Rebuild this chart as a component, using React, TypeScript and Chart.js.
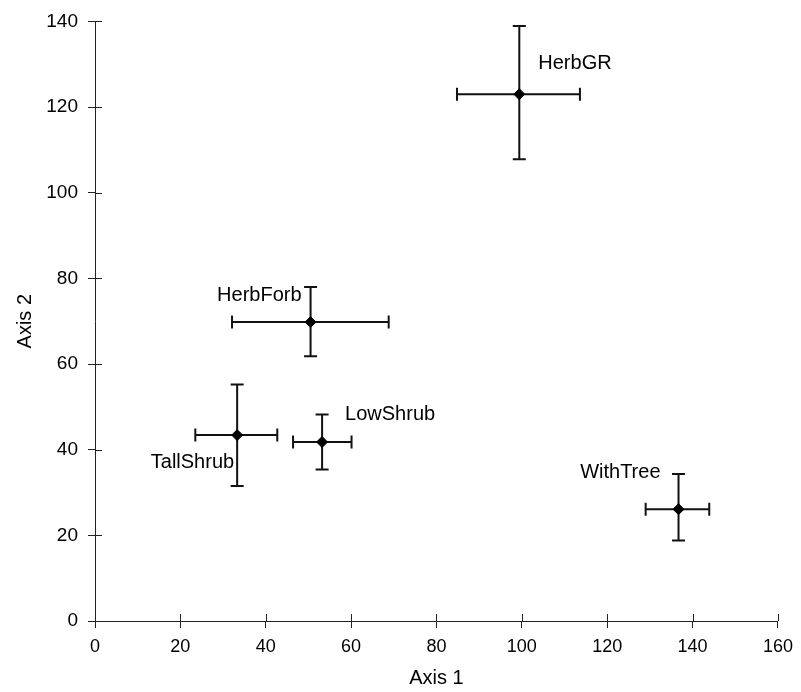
import React, { useEffect, useRef } from "react";
import { Chart, registerables } from "chart.js";

Chart.register(...registerables);

// ---- data ----
const groups = ["HerbGR", "HerbForb", "TallShrub", "LowShrub", "WithTree"];
const axis1 = [99.4, 50.5, 33.3, 53.2, 136.7];
const axis2 = [123.0, 69.8, 43.4, 41.8, 26.1];
const axis1Low = [84.8, 32.1, 23.5, 46.4, 129.0];
const axis1High = [113.6, 68.8, 42.7, 60.1, 143.9];
const axis2Low = [107.8, 61.8, 31.5, 35.4, 18.8];
const axis2High = [138.9, 78.0, 55.2, 48.2, 34.3];

// label placement (pixel offsets from the point – styling only)
const labelDx = [19, -9, -3, 23, -18];
const labelDy = [-31, -27, 27, -27, -37];
const labelAlign: CanvasTextAlign[] = ["left", "right", "right", "left", "right"];

const FONT = "'Liberation Sans', Arial, Helvetica, sans-serif";
const INK = "#111";

const errorBarPlugin = {
  id: "errorBars",
  beforeDatasetsDraw(chart: any) {
    const { ctx, scales } = chart;
    const xs = scales.x;
    const ys = scales.y;
    const cap = 6.5;
    ctx.save();
    ctx.strokeStyle = INK;
    ctx.lineWidth = 2;
    for (let i = 0; i < groups.length; i++) {
      const px = xs.getPixelForValue(axis1[i]);
      const py = ys.getPixelForValue(axis2[i]);
      const xl = xs.getPixelForValue(axis1Low[i]);
      const xh = xs.getPixelForValue(axis1High[i]);
      const yl = ys.getPixelForValue(axis2Low[i]);
      const yh = ys.getPixelForValue(axis2High[i]);
      ctx.beginPath();
      ctx.moveTo(xl, py);
      ctx.lineTo(xh, py);
      ctx.moveTo(xl, py - cap);
      ctx.lineTo(xl, py + cap);
      ctx.moveTo(xh, py - cap);
      ctx.lineTo(xh, py + cap);
      ctx.moveTo(px, yl);
      ctx.lineTo(px, yh);
      ctx.moveTo(px - cap, yl);
      ctx.lineTo(px + cap, yl);
      ctx.moveTo(px - cap, yh);
      ctx.lineTo(px + cap, yh);
      ctx.stroke();
    }
    ctx.restore();
  },
  afterDatasetsDraw(chart: any) {
    const { ctx, scales } = chart;
    ctx.save();
    ctx.fillStyle = "#000";
    ctx.font = `20px ${FONT}`;
    ctx.textBaseline = "middle";
    for (let i = 0; i < groups.length; i++) {
      const px = scales.x.getPixelForValue(axis1[i]);
      const py = scales.y.getPixelForValue(axis2[i]);
      ctx.textAlign = labelAlign[i];
      ctx.fillText(groups[i], px + labelDx[i], py + labelDy[i]);
    }
    ctx.restore();
  },
};

const innerTicksPlugin = {
  id: "innerTicks",
  afterDraw(chart: any) {
    const { ctx, scales } = chart;
    const len = 7;
    ctx.save();
    ctx.strokeStyle = "#222";
    ctx.lineWidth = 1;
    ctx.beginPath();
    const xs = scales.x;
    xs.ticks.forEach((t: any) => {
      const p = Math.round(xs.getPixelForValue(t.value)) + 0.5;
      ctx.moveTo(p, xs.top);
      ctx.lineTo(p, xs.top - len);
    });
    const ys = scales.y;
    ys.ticks.forEach((t: any) => {
      const p = Math.round(ys.getPixelForValue(t.value)) + 0.5;
      ctx.moveTo(ys.right, p);
      ctx.lineTo(ys.right + len, p);
    });
    ctx.stroke();
    ctx.restore();
  },
};

export default function App() {
  const ref = useRef<HTMLCanvasElement | null>(null);

  useEffect(() => {
    if (!ref.current) return;
    const chart = new Chart(ref.current, {
      type: "scatter",
      data: {
        datasets: [
          {
            label: "Groups",
            data: axis1.map((x, i) => ({ x, y: axis2[i] })),
            pointStyle: "rectRot",
            pointRadius: 5.5,
            pointBackgroundColor: "#000",
            pointBorderColor: "#000",
            pointBorderWidth: 1,
          },
        ],
      },
      options: {
        animation: false,
        responsive: false,
        devicePixelRatio: 1,
        layout: { padding: { top: 21, right: 19, left: 0, bottom: 0 } },
        plugins: {
          legend: { display: false },
          tooltip: { enabled: false },
        },
        scales: {
          x: {
            type: "linear",
            min: 0,
            max: 160,
            afterFit: (s: any) => {
              s.height = 71;
            },
            ticks: {
              stepSize: 20,
              color: "#000",
              padding: 8,
              font: { family: FONT, size: 18 },
            },
            grid: {
              drawOnChartArea: false,
              drawTicks: true,
              tickLength: 7,
              color: "#222",
            },
            border: { display: true, color: "#222", width: 1 },
            title: {
              display: true,
              text: "Axis 1",
              color: "#000",
              font: { family: FONT, size: 20 },
              padding: { top: 0, bottom: 2 },
            },
          },
          y: {
            type: "linear",
            min: 0,
            max: 140,
            afterFit: (s: any) => {
              s.width = 95;
            },
            ticks: {
              stepSize: 20,
              color: "#000",
              padding: 10,
              font: { family: FONT, size: 19 },
            },
            grid: {
              drawOnChartArea: false,
              drawTicks: true,
              tickLength: 7,
              color: "#222",
            },
            border: { display: true, color: "#222", width: 1 },
            title: {
              display: true,
              text: "Axis 2",
              color: "#000",
              font: { family: FONT, size: 20 },
              padding: { top: 13, bottom: 0 },
            },
          },
        },
      },
      plugins: [errorBarPlugin, innerTicksPlugin],
    });
    return () => chart.destroy();
  }, []);

  return (
    <div style={{ position: "fixed", left: 0, top: 0, width: 801, height: 692, background: "#fff" }}>
      <canvas ref={ref} width={801} height={692} style={{ display: "block" }} />
    </div>
  );
}
